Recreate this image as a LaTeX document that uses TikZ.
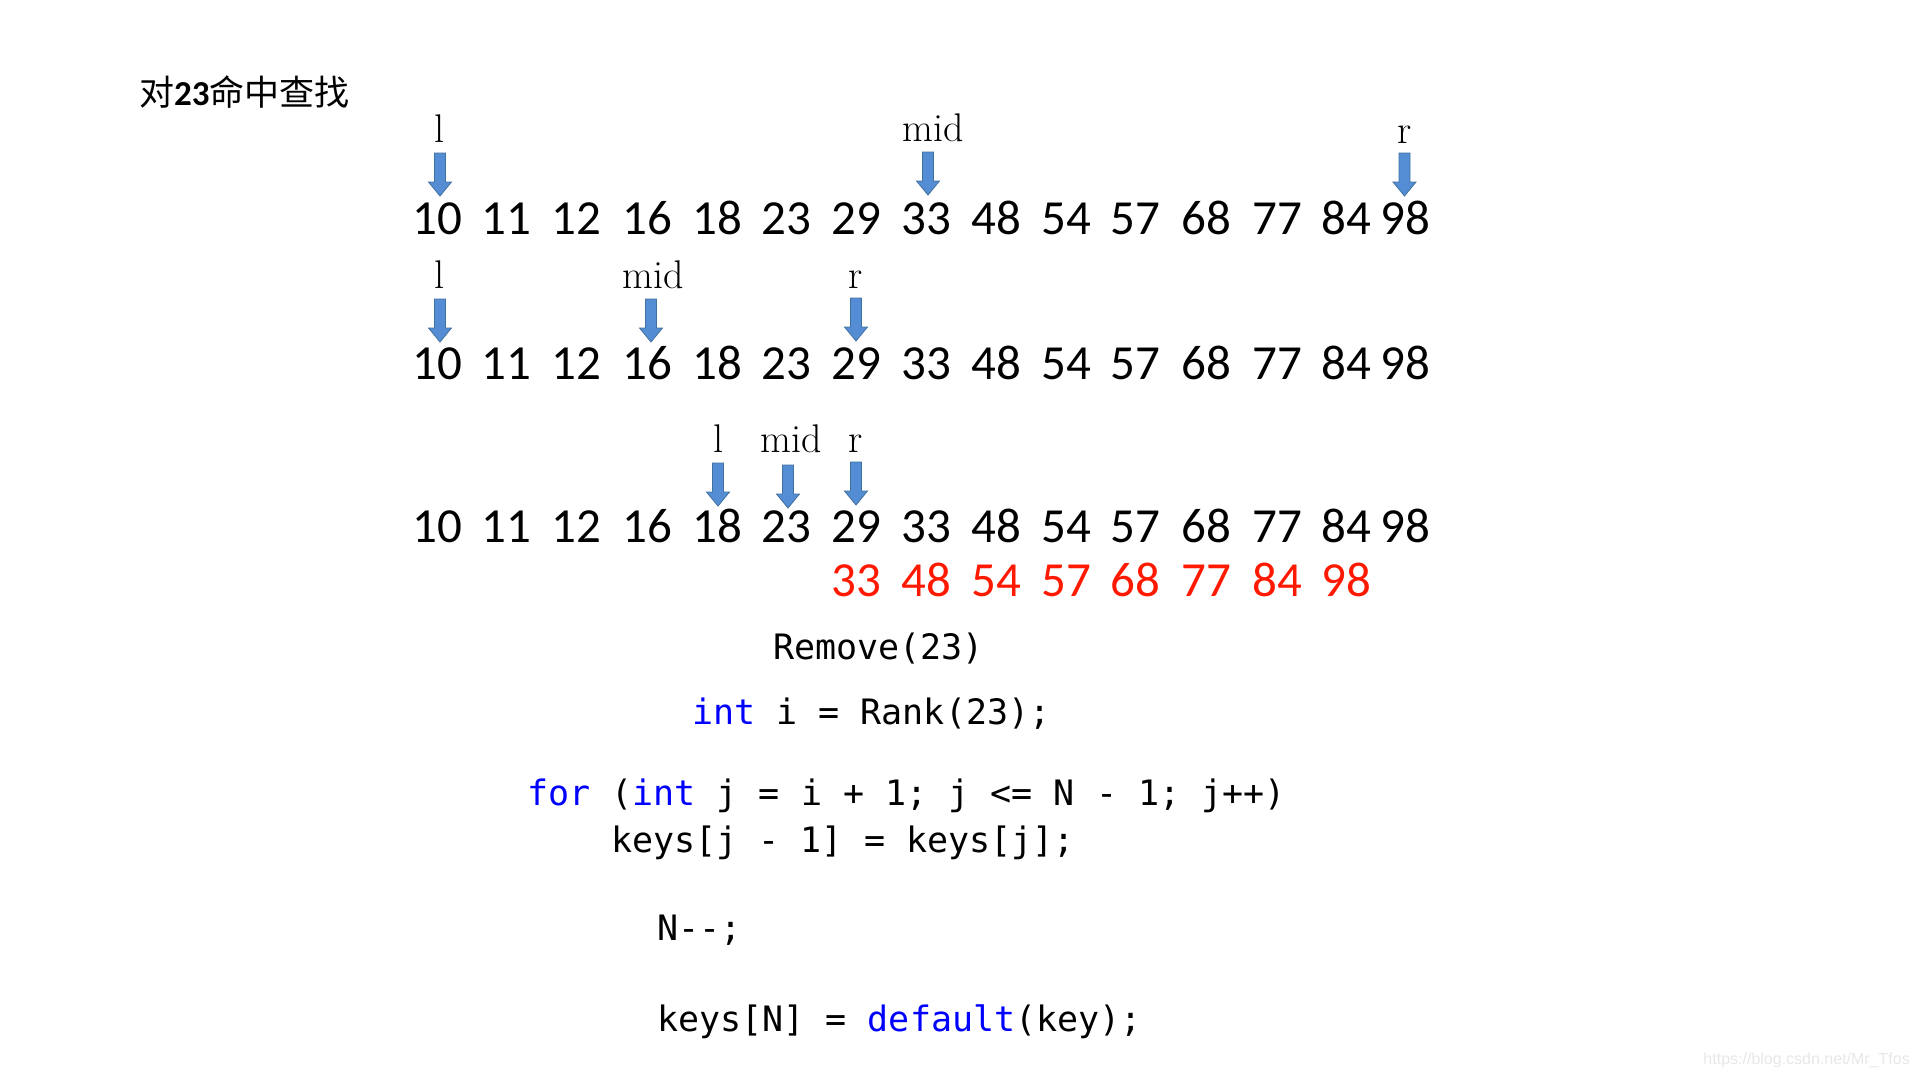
\documentclass[tikz,border=0pt]{standalone}
\usepackage{fontspec}
\newfontfamily\calib{Carlito}
\newfontfamily\cjk{Noto Sans CJK SC}
\newfontfamily\wmfont{Liberation Sans}
\setmonofont{DejaVu Sans Mono}
\definecolor{arrfill}{RGB}{84,141,212}
\definecolor{arrline}{RGB}{65,113,160}
\definecolor{numred}{RGB}{255,25,0}
\definecolor{kwblue}{RGB}{0,0,255}
\tikzset{
  x=1pt, y=-1pt,
  num/.style={font=\calib\fontsize{49}{50}\selectfont, anchor=base, inner sep=0pt},
  rednum/.style={num, text=numred},
  lab/.style={font=\rmfamily\fontsize{40}{42}\selectfont, anchor=base, inner sep=0pt},
  code/.style={font=\ttfamily\fontsize{35}{36}\selectfont, anchor=base west, inner sep=0pt},
  pics/blockdown/.style={code={
    \draw[fill=arrfill, draw=arrline, line width=0.8pt]
      (-5.5,0) -- (5.5,0) -- (5.5,29) -- (11.5,29) -- (0,43) -- (-11.5,29) -- (-5.5,29) -- cycle;}}
}
\begin{document}
\begin{tikzpicture}
\useasboundingbox[fill=white] (0,0) rectangle (1920,1080);
% title
\node[anchor=base west, inner sep=0pt] (title) at (139,105)
  {{\cjk\fontsize{35}{36}\selectfont 对}{\calib\bfseries\fontsize{35}{36}\selectfont 23}{\cjk\fontsize{35}{36}\selectfont 命中查找}};
% number rows
\foreach \v/\x [count=\i] in {10/437,11/506.5,12/576.5,16/647,18/717,23/786,29/856.5,33/926.5,48/996,54/1066.5,57/1135.5,68/1206.5,77/1277,84/1346,98/1405.5}{
  \node[num] (ra\i) at (\x,234) {\v};
  \node[num] (rb\i) at (\x,379) {\v};
  \node[num] (rc\i) at (\x,542) {\v};
}
\foreach \v/\x [count=\i] in {33/856.5,48/926.5,54/996,57/1066.5,68/1135.5,77/1206.5,84/1277,98/1346}{
  \node[rednum] (rd\i) at (\x,596) {\v};
}
% row 1 labels and arrows
\node[lab] (la1) at (439,142) {l};
\node[lab] (ma1) at (933,141) {mid};
\node[lab] (rr1) at (1404.5,143) {r};
\pic (ala1) at (440,153) {blockdown};
\pic (ama1) at (928,152) {blockdown};
\pic (arr1) at (1404.5,153) {blockdown};
% row 2
\node[lab] (la2) at (439,288) {l};
\node[lab] (ma2) at (653,288) {mid};
\node[lab] (rr2) at (856,288) {r};
\pic (ala2) at (440,299) {blockdown};
\pic (ama2) at (651,299) {blockdown};
\pic (arr2) at (856,298) {blockdown};
% row 3
\node[lab] (la3) at (718.5,452) {l};
\node[lab] (ma3) at (791,452) {mid};
\node[lab] (rr3) at (856,452) {r};
\pic (ala3) at (718,463) {blockdown};
\pic (ama3) at (788,465) {blockdown};
\pic (arr3) at (856,462) {blockdown};
% code
\node[code] (c1) at (773,659) {Remove(23)};
\node[code] (c2) at (692,724.5) {{\color{kwblue}int} i = Rank(23);};
\node[code] (c3) at (527,805.5) {{\color{kwblue}for} ({\color{kwblue}int} j = i + 1; j <= N - 1; j++)};
\node[code] (c4) at (611,852) {keys[j - 1] = keys[j];};
\node[code] (c5) at (657,940) {N-{}-;};
\node[code] (c6) at (657,1031) {keys[N] = {\color{kwblue}default}(key);};
% watermark
\node[anchor=base east, inner sep=0pt, font=\wmfont\fontsize{16}{16}\selectfont, text=black!9] (wm) at (1910,1064) {https://blog.csdn.net/Mr\_Tfos};
\end{tikzpicture}
\end{document}
